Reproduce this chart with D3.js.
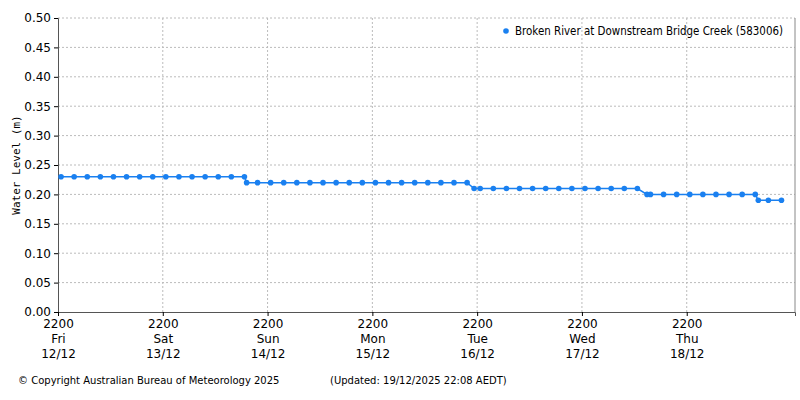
<!DOCTYPE html>
<html><head><meta charset="utf-8">
<script src="https://cdn.jsdelivr.net/npm/d3@7"></script>
<style>body{margin:0;background:#fff}text{font-family:"DejaVu Sans",sans-serif}</style>
</head><body><svg id="c" width="800" height="400"></svg>
<script>
// hours since Fri 12/12 22:00
const hours = [0.7,3.7,6.7,9.7,12.7,15.7,18.7,21.7,24.7,27.7,30.7,33.7,36.7,39.7,42.7,
  43.2,45.7,48.7,51.7,54.7,57.7,60.7,63.7,66.7,69.7,72.7,75.7,78.7,81.7,84.7,87.7,90.7,93.7,
  95.3,96.7,99.7,102.7,105.7,108.7,111.7,114.7,117.7,120.7,123.7,126.7,129.7,132.7,
  134.9,135.7,138.7,141.7,144.7,147.7,150.7,153.7,156.7,159.7,
  160.4,162.7,165.7];
const levels = [0.23,0.23,0.23,0.23,0.23,0.23,0.23,0.23,0.23,0.23,0.23,0.23,0.23,0.23,0.23,
  0.22,0.22,0.22,0.22,0.22,0.22,0.22,0.22,0.22,0.22,0.22,0.22,0.22,0.22,0.22,0.22,0.22,0.22,
  0.21,0.21,0.21,0.21,0.21,0.21,0.21,0.21,0.21,0.21,0.21,0.21,0.21,0.21,
  0.20,0.20,0.20,0.20,0.20,0.20,0.20,0.20,0.20,0.20,
  0.19,0.19,0.19];
const tickDays = ["Fri","Sat","Sun","Mon","Tue","Wed","Thu"];
const tickDates = ["12/12","13/12","14/12","15/12","16/12","17/12","18/12"];
const yTicks = [0,0.05,0.10,0.15,0.20,0.25,0.30,0.35,0.40,0.45,0.50];

const svg = d3.select("#c");
const L=58,R=795,T=18,B=312;
const x = d3.scaleLinear().domain([0,168.8]).range([L,R]);
const y = d3.scaleLinear().domain([0,0.5]).range([B,T]);
const data = hours.map((h,i)=>({h,v:levels[i]}));
const col="#1a80f0";

svg.append("g").selectAll("line").data(yTicks.slice(1)).join("line")
 .attr("x1",L).attr("x2",R).attr("y1",d=>y(d)).attr("y2",d=>y(d))
 .attr("stroke","#bbb").attr("stroke-dasharray","2,2");
const xt = tickDays.map((d,i)=>i*24);
svg.append("g").selectAll("line").data(xt.slice(1)).join("line")
 .attr("x1",d=>x(d)).attr("x2",d=>x(d)).attr("y1",T).attr("y2",B)
 .attr("stroke","#bbb").attr("stroke-dasharray","2,2");
svg.append("line").attr("x1",R).attr("x2",R).attr("y1",T).attr("y2",B).attr("stroke","#888");

const ya = svg.append("g").attr("transform",`translate(${L},0)`)
 .call(d3.axisLeft(y).tickValues(yTicks).tickFormat(d3.format(".2f")).tickSize(4));
ya.selectAll("text").attr("font-size",12).attr("fill","#000");
ya.select(".domain").attr("stroke","#555");
const xa = svg.append("g").attr("transform",`translate(0,${B})`)
 .call(d3.axisBottom(x).tickValues(xt).tickFormat("").tickSize(4));
xa.select(".domain").attr("stroke","#555");
xa.selectAll(".tick").each(function(d,i){
  const t=d3.select(this).append("text").attr("fill","#000").attr("font-size",12).attr("text-anchor","middle");
  ["2200",tickDays[i],tickDates[i]].forEach((s,j)=>t.append("tspan").attr("x",0).attr("y",16+j*15).text(s));
});
svg.append("text").attr("transform",`translate(20,${(T+B)/2}) rotate(-90)`).attr("text-anchor","middle")
 .attr("font-size",11).style("font-family","DejaVu Sans Mono").text("Water Level (m)");

svg.append("path").datum(data).attr("fill","none").attr("stroke",col).attr("stroke-width",1.5)
 .attr("d",d3.line().x(d=>x(d.h)).y(d=>y(d.v)));
svg.append("g").selectAll("circle").data(data).join("circle")
 .attr("cx",d=>x(d.h)).attr("cy",d=>y(d.v)).attr("r",2.8).attr("fill",col);

svg.append("circle").attr("cx",506).attr("cy",31).attr("r",2.8).attr("fill",col);
svg.append("text").attr("x",515).attr("y",35).attr("font-size",12)
 .attr("textLength",268).attr("lengthAdjust","spacingAndGlyphs")
 .text("Broken River at Downstream Bridge Creek (583006)");

svg.append("text").attr("x",18).attr("y",384).attr("font-size",10).text("© Copyright Australian Bureau of Meteorology 2025");
svg.append("text").attr("x",330).attr("y",384).attr("font-size",10).text("(Updated: 19/12/2025 22:08 AEDT)");
</script></body></html>
